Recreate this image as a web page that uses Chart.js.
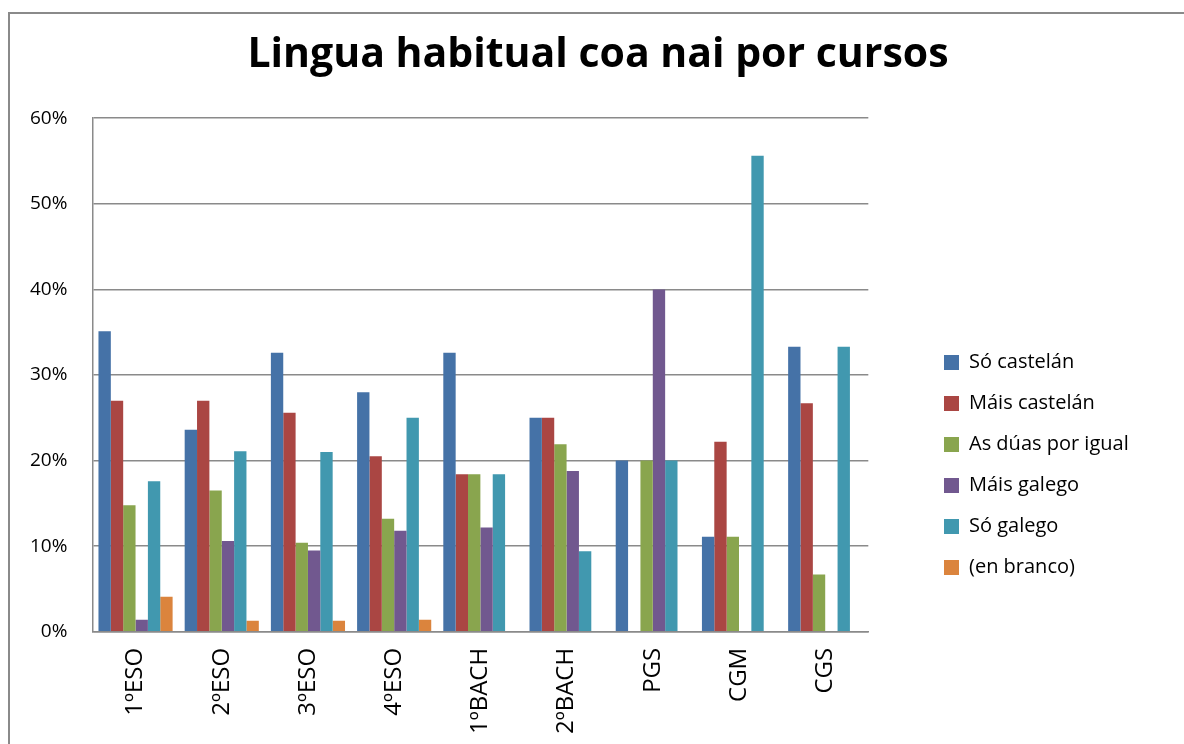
<!DOCTYPE html>
<html>
<head>
<meta charset="utf-8">
<script src="https://cdn.jsdelivr.net/npm/chart.js@4/dist/chart.umd.min.js"></script>
<style>
  body { margin: 0; background: #fff; overflow: hidden; }
  #marco { position: absolute; left: 8px; top: 12px; width: 1300px; height: 900px;
           border-left: 2px solid #8a8a8a; border-top: 2px solid #8a8a8a; pointer-events: none; }
  #wrap { position: absolute; left: 0; top: 0; width: 1184px; height: 744px; }
</style>
</head>
<body>
<div id="wrap"><canvas id="grafico"></canvas></div>
<div id="marco"></div>
<script>
const cursos = ['1ºESO', '2ºESO', '3ºESO', '4ºESO', '1ºBACH', '2ºBACH', 'PGS', 'CGM', 'CGS'];

const soCastelan   = [35.1, 23.6, 32.6, 28.0, 32.6, 25.0, 20.0, 11.1, 33.3];
const maisCastelan = [27.0, 27.0, 25.6, 20.5, 18.4, 25.0, 0, 22.2, 26.7];
const asDuas       = [14.8, 16.5, 10.4, 13.2, 18.4, 21.9, 20.0, 11.1, 6.7];
const maisGalego   = [1.4, 10.6, 9.5, 11.8, 12.2, 18.8, 40.0, 0, 0];
const soGalego     = [17.6, 21.1, 21.0, 25.0, 18.4, 9.4, 20.0, 55.6, 33.3];
const enBranco     = [4.1, 1.3, 1.3, 1.4, 0, 0, 0, 0, 0];

const yTicks = [0, 10, 20, 30, 40, 50, 60];

const fonte = "'Open Sans', 'Liberation Sans', sans-serif";

// a lenda vai máis abaixo e máis á dereita, e o título centrado en todo o gráfico
const moverLenda = {
    id: 'moverLenda',
    afterLayout(chart) {
        const l = chart.legend;
        const dx = 923 - l.left;
        l.left += dx;
        l.right += dx;
        l.top += 94;
        l.bottom += 94;
        const t = chart.titleBlock;
        t.left = 0;
        t.right = chart.width + 12;
        t.width = t.right - t.left;
    }
};

new Chart(document.getElementById('grafico'), {
    type: 'bar',
    data: {
        labels: cursos,
        datasets: [
            { label: 'Só castelán', data: soCastelan, backgroundColor: '#4572A7' },
            { label: 'Máis castelán', data: maisCastelan, backgroundColor: '#AA4643' },
            { label: 'As dúas por igual', data: asDuas, backgroundColor: '#89A54E' },
            { label: 'Máis galego', data: maisGalego, backgroundColor: '#71588F' },
            { label: 'Só galego', data: soGalego, backgroundColor: '#4198AF' },
            { label: '(en branco)', data: enBranco, backgroundColor: '#DB843D' }
        ]
    },
    options: {
        responsive: true,
        maintainAspectRatio: false,
        animation: false,
        categoryPercentage: 0.86,
        barPercentage: 1.0,
        layout: { padding: { left: 5, right: 100, top: 0, bottom: 2 } },
        plugins: {
            title: {
                display: true,
                text: 'Lingua habitual coa nai por cursos',
                color: '#000',
                font: { family: fonte, size: 41, weight: 'bold' },
                padding: { top: 31, bottom: 38 }
            },
            legend: {
                position: 'right',
                align: 'center',
                labels: {
                    color: '#000',
                    font: { family: fonte, size: 20 },
                    boxWidth: 15,
                    boxHeight: 15,
                    padding: 21
                }
            },
            tooltip: { enabled: false }
        },
        scales: {
            x: {
                grid: { display: false },
                border: { color: '#8a8a8a', width: 1.5 },
                ticks: {
                    color: '#000',
                    font: { family: fonte, size: 24 },
                    minRotation: 90,
                    maxRotation: 90,
                    padding: 8
                }
            },
            y: {
                min: 0,
                max: 60,
                afterBuildTicks(axis) { axis.ticks = yTicks.map(v => ({ value: v })); },
                grid: { color: '#8a8a8a', lineWidth: 1.5, drawTicks: false },
                border: { color: '#8a8a8a', width: 1.5 },
                ticks: {
                    color: '#000',
                    font: { family: fonte, size: 19 },
                    padding: 25,
                    callback: v => v + '%'
                }
            }
        }
    },
    plugins: [moverLenda]
});
</script>
</body>
</html>
